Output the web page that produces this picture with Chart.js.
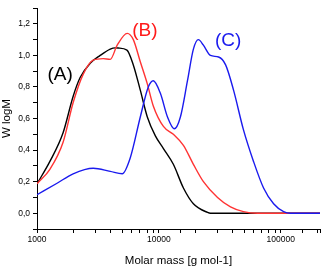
<!DOCTYPE html>
<html>
<head>
<meta charset="utf-8">
<script src="https://cdn.jsdelivr.net/npm/chart.js@4.4.0/dist/chart.umd.min.js"></script>
<style>
  html, body { margin: 0; padding: 0; background: #fff; }
  #wrap { width: 325px; height: 270px; }
</style>
</head>
<body>
<div id="wrap"><canvas id="gpc"></canvas></div>
<script>
// molar mass [g/mol] and W logM
const massA = [1000, 1279, 1637, 1978, 2259, 2731, 3300, 3990, 4385, 4640, 5470, 6170, 7040, 8040, 9360, 10900, 13150, 15900, 19200, 25100, 26500, 210000];
const wA    = [0.186, 0.33, 0.51, 0.74, 0.86, 0.95, 1.0, 1.04, 1.048, 1.047, 1.034, 0.94, 0.78, 0.61, 0.49, 0.41, 0.31, 0.16, 0.06, 0.005, 0, 0];

const massB = [1000, 1279, 1637, 1978, 2391, 2892, 3492, 3990, 4550, 5500, 6170, 7040, 8040, 9000, 10900, 13150, 15900, 19200, 23200, 30300, 38700, 49400, 64400, 210000];
const wB    = [0.186, 0.28, 0.45, 0.70, 0.88, 0.97, 0.98, 0.975, 1.065, 1.14, 1.10, 0.96, 0.82, 0.68, 0.55, 0.50, 0.43, 0.31, 0.20, 0.10, 0.04, 0.01, 0, 0];

const massC = [1000, 1461, 1978, 2892, 3990, 5010, 5820, 7040, 8190, 9000, 10290, 11770, 13400, 15020, 17170, 19200, 21100, 23200, 26500, 30900, 35300, 41000, 49400, 59700, 72300, 87400, 105600, 120800, 210000];
const wC    = [0.117, 0.19, 0.25, 0.285, 0.265, 0.25, 0.35, 0.61, 0.80, 0.84, 0.76, 0.61, 0.535, 0.61, 0.84, 1.04, 1.10, 1.065, 1.0, 0.99, 0.94, 0.78, 0.53, 0.33, 0.16, 0.06, 0.01, 0, 0];

const tags = [
  { text: '(A)', x: 1546, y: 0.88, color: '#000000' },
  { text: '(B)', x: 7670, y: 1.157, color: '#ff1a1a' },
  { text: '(C)', x: 37000, y: 1.09, color: '#1a1aee' }
];

function pts(xs, ys) {
  return xs.map((m, i) => ({ x: m, y: ys[i] }));
}

// draws the (A) (B) (C) letters at data positions
const tagPlugin = {
  id: 'tags',
  afterDatasetsDraw(chart) {
    const ctx = chart.ctx;
    const sx = chart.scales.x, sy = chart.scales.y;
    ctx.save();
    ctx.font = '19px "Liberation Sans", Arial, sans-serif';
    ctx.textAlign = 'center';
    ctx.textBaseline = 'middle';
    tags.forEach(t => {
      ctx.fillStyle = t.color;
      ctx.fillText(t.text, sx.getPixelForValue(t.x), sy.getPixelForValue(t.y));
    });
    ctx.restore();
  }
};

const line = (data, color) => ({
  data: data,
  borderColor: color,
  borderWidth: 1.4,
  pointRadius: 0,
  fill: false,
  cubicInterpolationMode: 'monotone'
});

new Chart(document.getElementById('gpc'), {
  type: 'line',
  data: {
    datasets: [
      line(pts(massC, wC), '#1a1aee'),
      line(pts(massB, wB), '#ff3333'),
      line(pts(massA, wA), '#000000')
    ]
  },
  options: {
    responsive: true,
    maintainAspectRatio: false,
    animation: false,
    layout: { padding: { top: 2, right: 5, left: 0, bottom: 0 } },
    plugins: {
      legend: { display: false },
      tooltip: { enabled: false }
    },
    scales: {
      x: {
        type: 'logarithmic',
        min: 1000,
        max: 210000,
        border: { color: '#000', width: 1 },
        grid: { drawOnChartArea: false, drawTicks: true, tickLength: 4, tickColor: '#000' },
        ticks: {
          autoSkip: false,
          maxRotation: 0,
          padding: 2,
          color: '#000',
          font: { family: '"Liberation Sans", Arial, sans-serif', size: 8.5 },
          callback: (v) => {
            const l = Math.log10(v);
            return Math.abs(l - Math.round(l)) < 1e-9 ? String(v) : '';
          }
        },
        title: {
          display: true,
          text: 'Molar mass [g mol-1]',
          color: '#000',
          font: { family: '"Liberation Sans", Arial, sans-serif', size: 11.5 },
          padding: { top: 4, bottom: 2 }
        },
        afterFit: (s) => { s.height = 41; }
      },
      y: {
        min: -0.1,
        max: 1.3,
        border: { color: '#000', width: 1 },
        grid: { drawOnChartArea: false, drawTicks: true, tickLength: 4, tickColor: '#000' },
        ticks: {
          stepSize: 0.1,
          autoSkip: false,
          padding: 3,
          color: '#000',
          font: { family: '"Liberation Sans", Arial, sans-serif', size: 8.5 },
          callback: (v) => {
            const k = Math.round(v * 10);
            return (k >= 0 && k % 2 === 0) ? (k / 10).toFixed(1).replace('.', ',') : '';
          }
        },
        title: {
          display: true,
          text: 'W logM',
          color: '#000',
          font: { family: '"Liberation Sans", Arial, sans-serif', size: 11.5 },
          padding: { top: 0, bottom: 0 }
        },
        afterFit: (s) => { s.width = 37; }
      }
    }
  },
  plugins: [tagPlugin]
});
</script>
</body>
</html>
